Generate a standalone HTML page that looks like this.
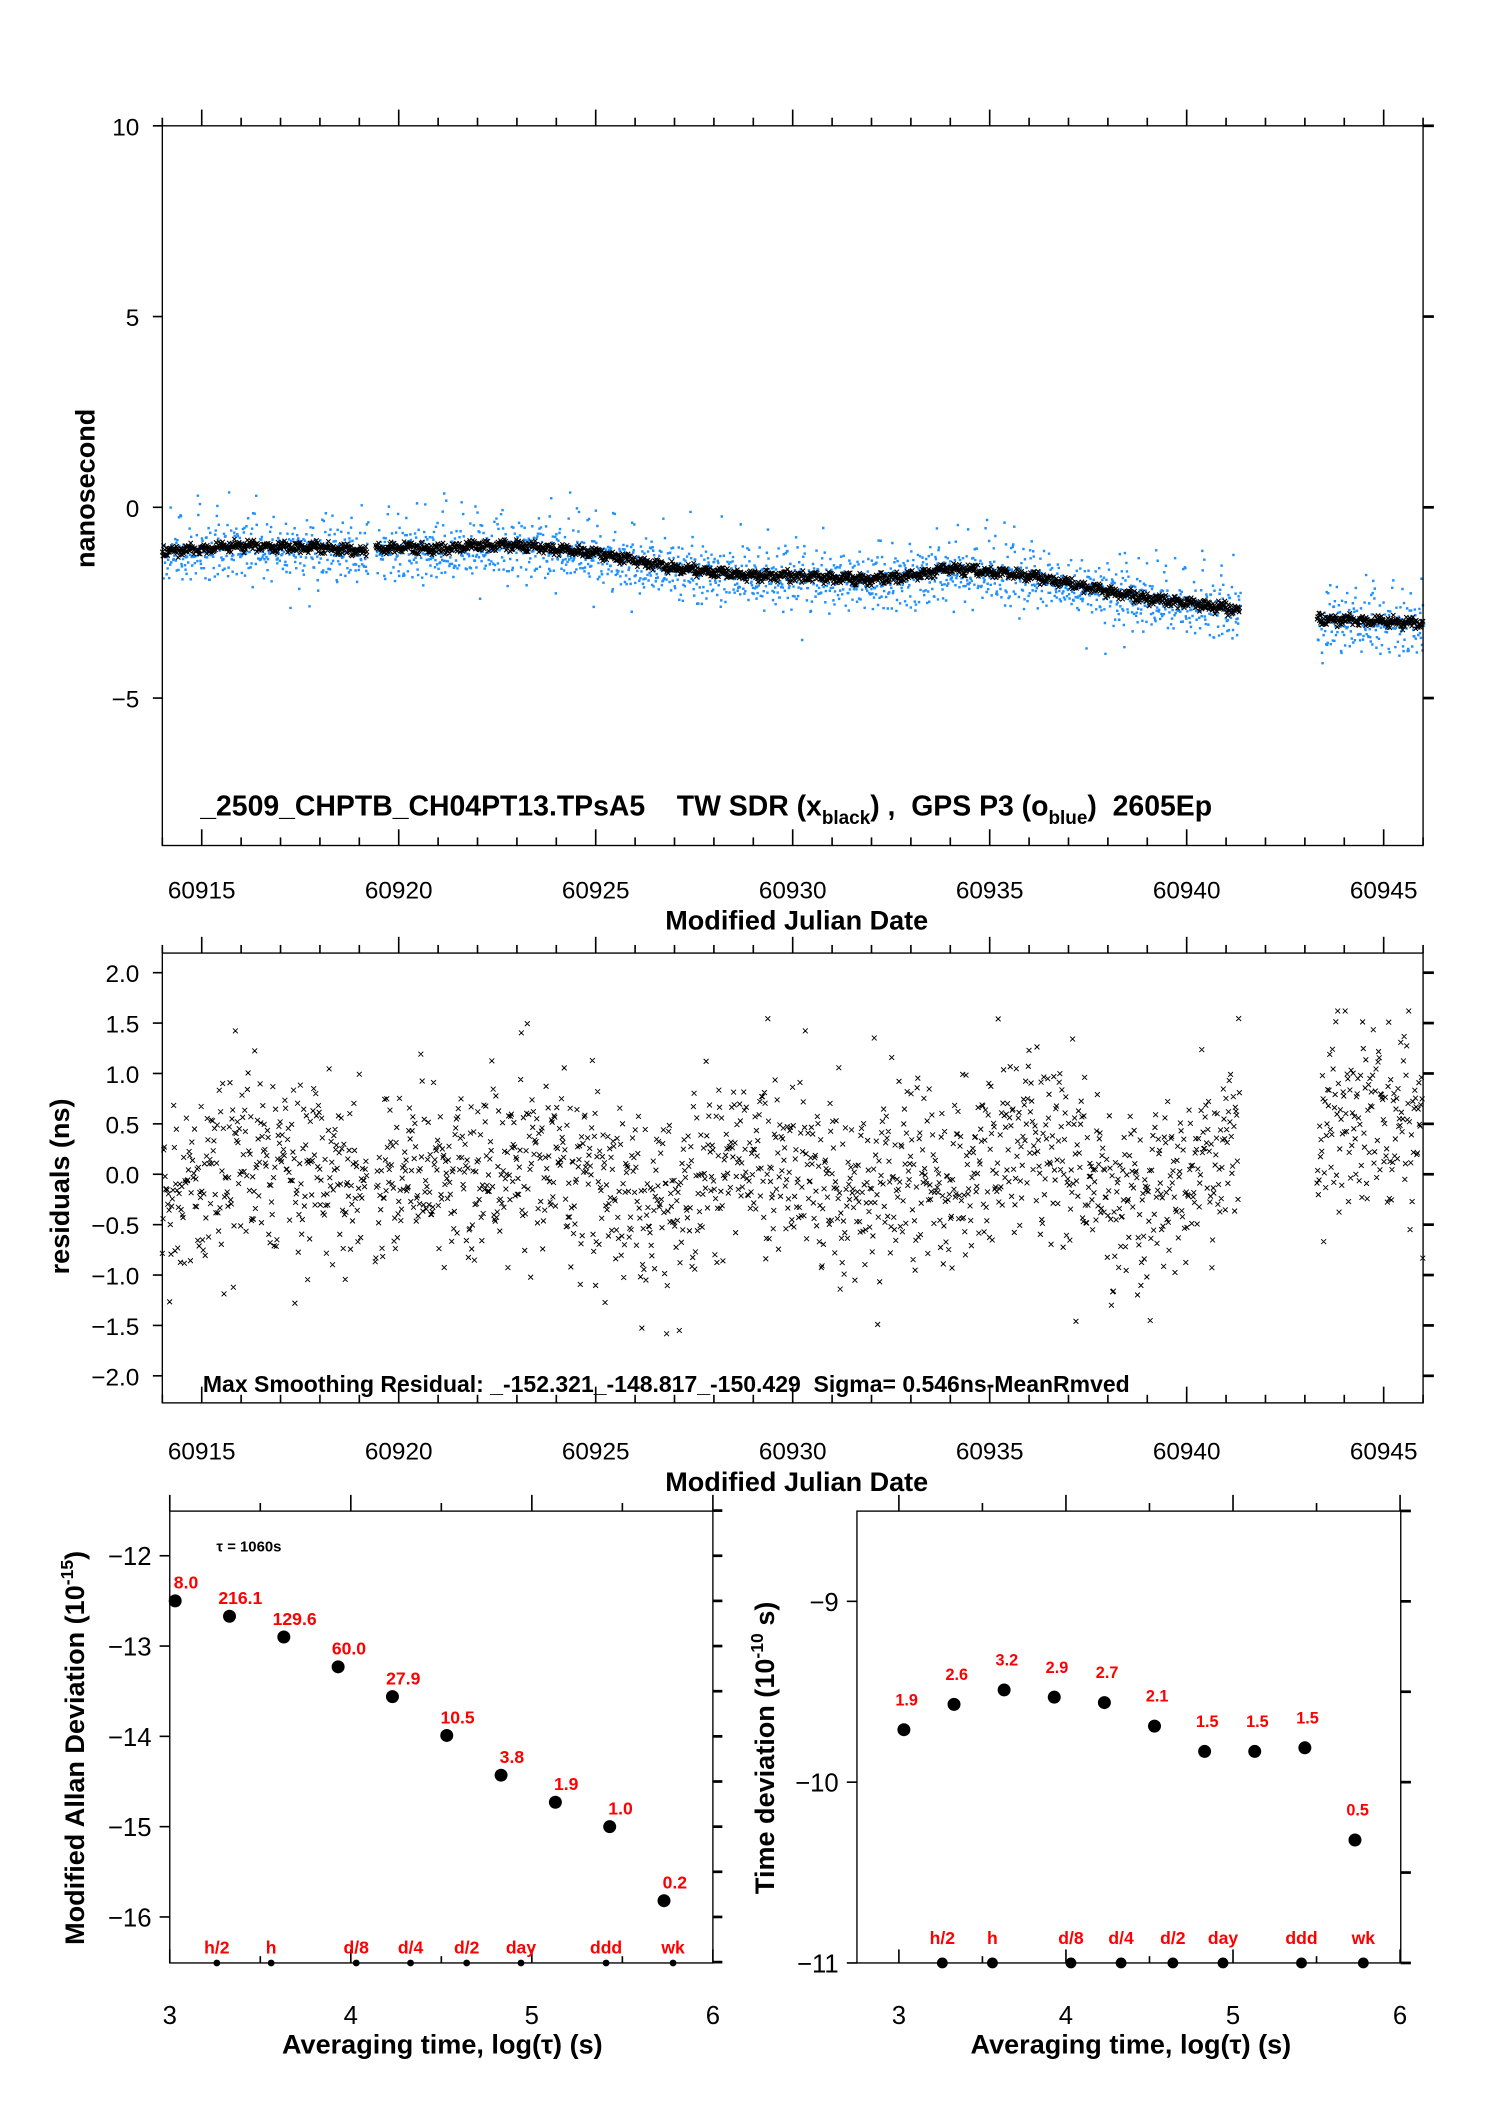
<!DOCTYPE html>
<html><head><meta charset="utf-8"><style>
html,body{margin:0;padding:0;background:#fff;}
svg{display:block;font-family:"Liberation Sans",sans-serif;}
</style></head><body>
<svg id="fig" width="1488" height="2105" viewBox="0 0 1100 1556" preserveAspectRatio="none" xmlns="http://www.w3.org/2000/svg">
<rect width="1100" height="1556" fill="#fff"/>
<g id="g1"></g>
<g id="g2"></g>
<g id="g3"></g>
<g id="g4"></g>
</svg>
<script>
// ---- data ----
const trendDays = [60914,60915,60916,60917,60918,60919,60920,60921,60922,60923,60924,60925,60926,60927,60928,60929,60930,60931,60932,60933,60934,60935,60936,60937,60938,60939,60940,60941.35,60943.3,60944,60945,60946];
const trendVals = [-1.15,-1.1,-1.0,-1.05,-1.05,-1.15,-1.05,-1.1,-1.0,-1.0,-1.1,-1.2,-1.4,-1.6,-1.7,-1.8,-1.8,-1.85,-1.9,-1.8,-1.6,-1.7,-1.8,-2.0,-2.2,-2.4,-2.5,-2.7,-2.95,-2.95,-3.0,-3.05];
const residMean = [-0.3,-0.1,0.1,0.1,0.1,-0.2,0.0,-0.1,0.0,0.1,0.2,0.0,-0.3,-0.3,0.0,0.2,0.0,-0.2,-0.2,0.0,-0.2,0.1,0.4,0.2,-0.2,-0.2,-0.1,0.3,0.3,0.3,0.6,0.5,0.6];
const J1 = [0.12,-0.45,0.83,-0.21,0.37,-0.92,0.05,0.61,-0.33,-0.74,0.28,0.94,-0.58,0.16,-0.07,0.49,-0.86,0.71,-0.15,0.33,-0.51,0.02,0.88,-0.39,0.57,-0.69,0.24,-0.97,0.41,0.09,-0.27,0.66,-0.12,0.79,-0.62,0.19,-0.44];
const J2 = [-0.31,0.72,0.08,-0.66,0.45,-0.13,0.91,-0.82,0.27,0.55,-0.48,0.14,-0.95,0.36,0.63,-0.22,0.03,-0.57,0.84,-0.38,0.21,-0.76,0.49,0.11,-0.29,0.97,-0.64,0.32,-0.05,0.58,-0.89,0.17,0.43,-0.71,0.26,-0.16,0.68,-0.53,0.06,0.87,-0.42,0.35,-0.93,0.52,-0.09,0.74,-0.25,0.39,-0.81,0.13,0.6,-0.36,0.01];
const mdevX = [3.03,3.33,3.63,3.93,4.23,4.53,4.83,5.13,5.43,5.73];
const mdevY = [-12.5,-12.67,-12.9,-13.23,-13.56,-13.99,-14.43,-14.73,-15.0,-15.82];
const mdevLbl = ["8.0","216.1","129.6","60.0","27.9","10.5","3.8","1.9","1.0","0.2"];
const tdevY = [-9.71,-9.57,-9.49,-9.53,-9.56,-9.69,-9.83,-9.83,-9.81,-10.32];
const tdevLbl = ["1.9","2.6","3.2","2.9","2.7","2.1","1.5","1.5","1.5","0.5"];
const markX = [3.26,3.56,4.03,4.33,4.64,4.94,5.41,5.78];
const markLbl = ["h/2","h","d/8","d/4","d/2","day","ddd","wk"];

// ---- helpers ----
const NS='http://www.w3.org/2000/svg';
function el(p,tag,a,txt){const e=document.createElementNS(NS,tag);for(const k in a)e.setAttribute(k,a[k]);if(txt!==undefined)e.textContent=txt;p.appendChild(e);return e;}
function lin(d0,d1,r0,r1){return v=>r0+(v-d0)*(r1-r0)/(d1-d0);}
function interp(xs,ys,x){for(let i=0;i<xs.length-1;i++){if(x>=xs[i]&&x<=xs[i+1])return ys[i]+(ys[i+1]-ys[i])*(x-xs[i])/(xs[i+1]-xs[i]);}return ys[ys.length-1];}
function noise(i){return J1[i%37]+J2[(i*7)%53];}
function inGap(t){return (t>60919.2&&t<60919.4)||(t>60941.35&&t<60943.3);}
function frame(g,x0,y0,x1,y1){const r=el(g,'rect',{x:x0,y:y0,width:x1-x0,height:y1-y0,fill:'none',stroke:'#000','stroke-width':1});}
function tick(g,x1,y1,x2,y2,w){el(g,'line',{x1:x1,y1:y1,x2:x2,y2:y2,stroke:'#000','stroke-width':w||1.2});}
function label(g,x,y,t,opts){const a=Object.assign({x:x,y:y,'font-size':18,'text-anchor':'middle',fill:'#000'},opts||{});const e=el(g,'text',a,t);return e;}

// ---- panel 1 ----
(function(){
 const g=document.getElementById('g1');
 const X=lin(60914,60946,120,1052), Y=lin(0,-5,375,516);
 const y0=93,y1=625;
 let blue='',black='';
 let i=0;
 for(let t=60914.0;t<=60946;t+=0.013,i++){
  if(inGap(t))continue;
  const tr=interp(trendDays,trendVals,t);
  let v=tr-0.15+0.42*noise(i*3+1);
  if(J1[(i*5)%37]>0.55) v+=1.0*Math.abs(J2[(i*11)%53])+0.2;
  if(J1[(i*7)%37]<-0.6&&J2[(i*2)%53]<-0.3) v-=0.7;
  blue+=`M${X(t).toFixed(1)} ${Y(v).toFixed(1)}h1.8v1.8h-1.8z`;
 }
 i=0;
 for(let t=60914.0;t<=60946;t+=0.015,i++){
  if(inGap(t))continue;
  const tr=interp(trendDays,trendVals,t);
  const v=tr+0.1*noise(i);
  const x=X(t),y=Y(v),s=1.6;
  black+=`M${(x-s).toFixed(1)} ${(y-s).toFixed(1)}l${2*s} ${2*s}m0 ${-2*s}l${-2*s} ${2*s}`;
 }
 const b=el(g,'path',{d:blue,fill:'#1e90ff'});
 
 
 const k=el(g,'path',{d:black,stroke:'#000','stroke-width':0.8,fill:'none'});
 
 
 frame(g,120,y0,1052,y1);
 for(let d=60914;d<=60946;d++){const M=d%5===0;const x=X(d);tick(g,x,y0,x,y0-(M?12:6));tick(g,x,y1,x,y1-(M?12:6));}
 [10,5,0,-5].forEach(v=>{tick(g,113,Y(v),120,Y(v));tick(g,1052,Y(v),1060,Y(v),2);const t=label(g,103,Y(v)+7,v<0?'\u2212'+(-v):String(v),{'text-anchor':'end'});});
 [60915,60920,60925,60930,60935,60940,60945].forEach(d=>{const t=label(g,X(d),664,String(d));});
 const yt=el(g,'text',{x:0,y:0,'font-size':20,'font-weight':'bold','text-anchor':'middle',transform:'translate(70,361) rotate(-90)'},'nanosecond');
 
 const xt=label(g,589,687,'Modified Julian Date',{'font-weight':'bold','font-size':20});
 
 const an=el(g,'text',{x:148,y:603,'font-size':21,'font-weight':'bold'});
 
 an.innerHTML='_2509_CHPTB_CH04PT13.TPsA5\u00a0\u00a0\u00a0\u00a0TW SDR (x<tspan font-size="14" dy="6">black</tspan><tspan dy="-6">) ,\u00a0 GPS P3 (o</tspan><tspan font-size="14" dy="6">blue</tspan><tspan dy="-6">)\u00a0 2605Ep</tspan>';
})();

// ---- panel 2 ----
(function(){
 const g=document.getElementById('g2');
 const X=lin(60914,60946,120,1052), Y=lin(2,-2,719,1017);
 const y0=704.5,y1=1037;
 let d='';let i=0;
 const days=residMean.map((_,k)=>60914+k);
 for(let t=60914.0;t<=60946;t+=0.017,i++){
  if(inGap(t))continue;
  const m=interp(days,residMean,t);
  let v=m+0.5*noise(i*7+3);
  if(J1[(i*3)%37]>0.6) v+=1.1*J2[(i*13)%53];
  if(v>1.62)v=1.62;if(v<-1.95)v=-1.95;
  const x=X(t),y=Y(v),s=1.8;
  d+=`M${(x-s).toFixed(1)} ${(y-s).toFixed(1)}l${2*s} ${2*s}m0 ${-2*s}l${-2*s} ${2*s}`;
 }
 const p=el(g,'path',{d:d,stroke:'#000','stroke-width':0.7,fill:'none'});
 
 
 frame(g,120,y0,1052,y1);
 for(let dd=60914;dd<=60946;dd++){const M=dd%5===0;const x=X(dd);tick(g,x,y0,x,y0-(M?12:6));tick(g,x,y1,x,y1-(M?12:6));}
 for(let v=-2;v<=2.001;v+=0.5){const s=v.toFixed(1);tick(g,113,Y(v),120,Y(v));tick(g,1052,Y(v),1060,Y(v),2);const t=label(g,103,Y(v)+7,v<-0.01?'\u2212'+(-v).toFixed(1):(Math.abs(v)<0.01?'0.0':s),{'text-anchor':'end'});}
 [60915,60920,60925,60930,60935,60940,60945].forEach(dd=>{const t=label(g,X(dd),1079,String(dd));});
 const yt=el(g,'text',{x:0,y:0,'font-size':20,'font-weight':'bold','text-anchor':'middle',transform:'translate(51,877) rotate(-90)'},'residuals (ns)');
 
 const xt=label(g,589,1102,'Modified Julian Date',{'font-weight':'bold','font-size':20});
 
 const an=label(g,150,1029,'Max Smoothing Residual: _-152.321_-148.817_-150.429\u00a0 Sigma= 0.546ns-MeanRmved',{'text-anchor':'start','font-weight':'bold','font-size':17});
 
})();

// ---- panel 3 ----
(function(){
 const g=document.getElementById('g3');
 const X=lin(3,6,125.5,527), Y=lin(-12,-16,1150,1417);
 const y0=1117,y1=1451;
 frame(g,125.5,y0,527,y1);
 for(let v=3;v<=6.001;v+=0.5){const M=Math.abs(v-Math.round(v))<0.01;tick(g,X(v),y0,X(v),y0-(M?12:6));tick(g,X(v),y1,X(v),y1-(M?10:5));}
 for(let v=-11.5;v>=-16.5;v-=0.5){const M=Math.abs(v-Math.round(v))<0.01;tick(g,527,Y(v),534,Y(v),2);if(M&&v<=-12&&v>=-16)tick(g,118,Y(v),125.5,Y(v));}
 [-12,-13,-14,-15,-16].forEach(v=>{const t=label(g,112,Y(v)+7,'\u2212'+(-v),{'text-anchor':'end','font-size':19});});
 [3,4,5,6].forEach(v=>{const t=label(g,X(v),1496,String(v),{'font-size':19});});
 mdevX.forEach((x,k)=>{
  const c=el(g,'circle',{cx:X(x),cy:Y(mdevY[k]),r:4.8,fill:'#000'});
  
  const t=label(g,X(x)+8,Y(mdevY[k])-9,mdevLbl[k],{fill:'#ff0000','font-size':13,'font-weight':'bold'});
  
 });
 markX.forEach((x,k)=>{
  const c=el(g,'circle',{cx:X(x),cy:y1,r:2.5,fill:'#000'});
  
  const t=label(g,X(x),1444,markLbl[k],{fill:'#ff0000','font-size':13,'font-weight':'bold'});
  
 });
 const ta=label(g,160,1147,'\u03c4 = 1060s',{'text-anchor':'start','font-size':11,'font-weight':'bold'});
 
 const yt=el(g,'text',{x:0,y:0,'font-size':20,'font-weight':'bold','text-anchor':'middle',transform:'translate(62,1292) rotate(-90)'});
 yt.innerHTML='Modified Allan Deviation (10<tspan font-size="13" dy="-8">-15</tspan><tspan dy="8">)</tspan>';
 
 const xt=label(g,327,1518,'Averaging time, log(\u03c4) (s)',{'font-weight':'bold','font-size':20});
 
})();

// ---- panel 4 ----
(function(){
 const g=document.getElementById('g4');
 const X=lin(3,6,664.5,1035), Y=lin(-9,-11,1183.7,1451);
 const y0=1117,y1=1451;
 frame(g,633.5,y0,1035.5,y1);
 for(let v=3;v<=6.001;v+=0.5){const M=Math.abs(v-Math.round(v))<0.01;tick(g,X(v),y0,X(v),y0-(M?12:6));tick(g,X(v),y1,X(v),y1-(M?10:5));}
 for(let v=-8.5;v>=-11;v-=0.5){tick(g,1035.5,Y(v),1043,Y(v),2);}
 [-9,-10,-11].forEach(v=>{tick(g,626,Y(v),633.5,Y(v));const t=label(g,620,Y(v)+7,'\u2212'+(-v),{'text-anchor':'end','font-size':19});});
 [3,4,5,6].forEach(v=>{const t=label(g,X(v),1496,String(v),{'font-size':19});});
 mdevX.forEach((x,k)=>{
  const c=el(g,'circle',{cx:X(x),cy:Y(tdevY[k]),r:4.8,fill:'#000'});
  
  const t=label(g,X(x)+2,Y(tdevY[k])-18,tdevLbl[k],{fill:'#ff0000','font-size':12,'font-weight':'bold'});
  
 });
 markX.forEach((x,k)=>{
  const c=el(g,'circle',{cx:X(x),cy:y1,r:4,fill:'#000'});
  
  const t=label(g,X(x),1437,markLbl[k],{fill:'#ff0000','font-size':13,'font-weight':'bold'});
  
 });
 const yt=el(g,'text',{x:0,y:0,'font-size':20,'font-weight':'bold','text-anchor':'middle',transform:'translate(572,1292) rotate(-90)'});
 yt.innerHTML='Time deviation (10<tspan font-size="13" dy="-8">-10</tspan><tspan dy="8"> s)</tspan>';
 
 const xt=label(g,836,1518,'Averaging time, log(\u03c4) (s)',{'font-weight':'bold','font-size':20});
 
})();
</script>
</body></html>
